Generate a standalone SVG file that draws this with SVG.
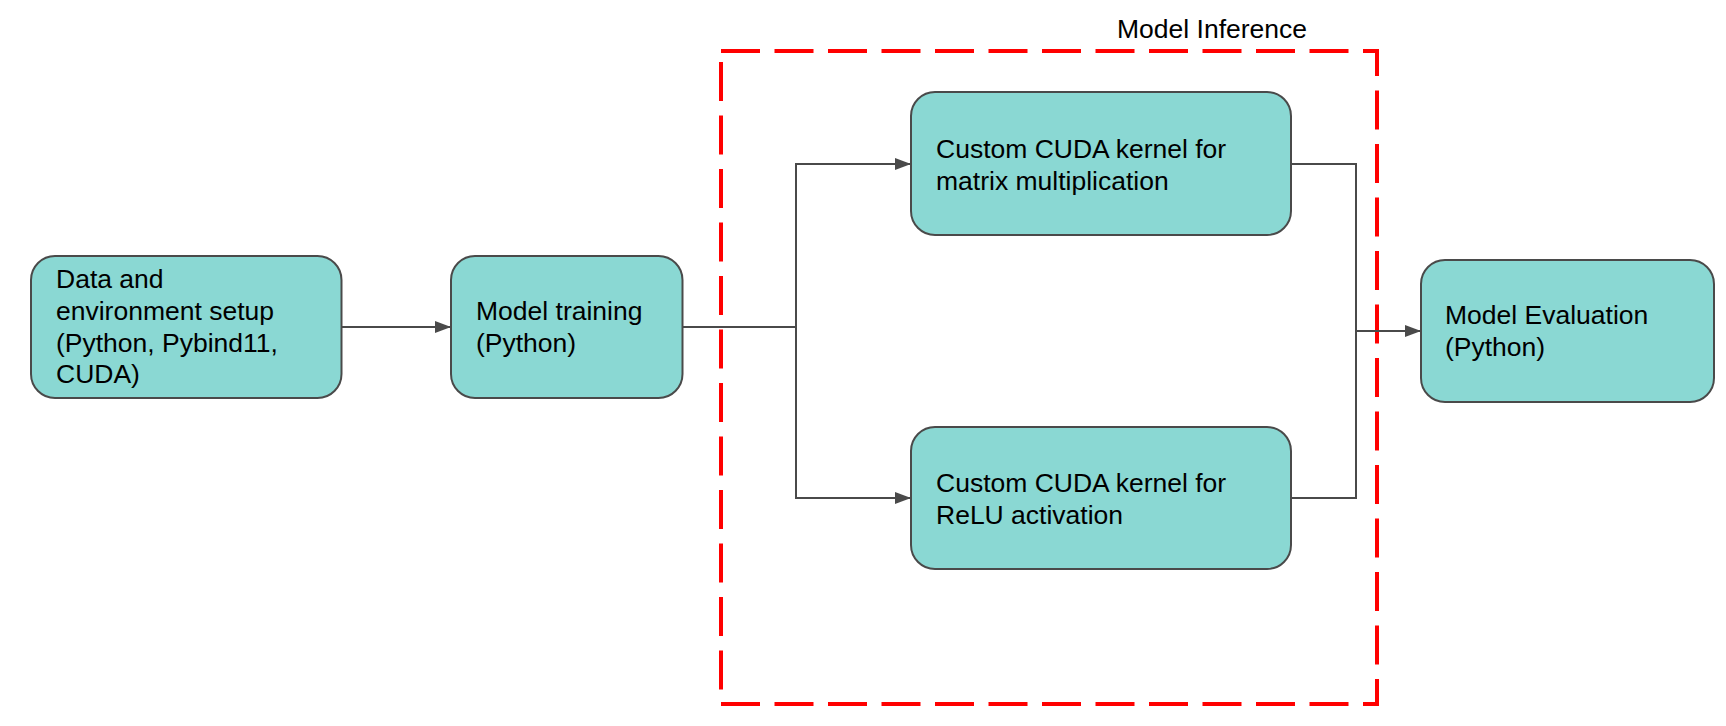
<svg xmlns="http://www.w3.org/2000/svg" width="1726" height="726" viewBox="0 0 1726 726">
<style>
.node rect{fill:#8ad8d3;stroke:#4a4a4a;stroke-width:2}
.node text,.label{font-family:"Liberation Sans",Arial,sans-serif;font-size:26.5px;fill:#000}
.conn path{fill:none;stroke:#4a4a4a;stroke-width:2}
</style>
<defs>
<marker id="arr" markerUnits="userSpaceOnUse" markerWidth="16" markerHeight="12" refX="15" refY="6" orient="auto">
<path d="M0,0 L16,6 L0,12 Z" fill="#4a4a4a"/>
</marker>
</defs>
<rect width="1726" height="726" fill="#fff"/>
<g id="group-inference">
<path d="M721,51 H1377 V704 H721 Z" fill="none" stroke="#ff0000" stroke-width="4" stroke-dasharray="39 14.5"/>
<text class="label" x="1117" y="38">Model Inference</text>
</g>
<g class="conn" id="connectors">
<path d="M342,327 H450" marker-end="url(#arr)"/>
<path d="M683,327 H796 V164 H910" marker-end="url(#arr)"/>
<path d="M683,327 H796 V498 H910" marker-end="url(#arr)"/>
<path d="M1291,164 H1356 V331 H1420" marker-end="url(#arr)"/>
<path d="M1291,498 H1356 V331"/>
</g>
<g class="node" id="node-setup">
<rect x="31" y="256" width="310.5" height="142" rx="24"/>
<text x="56" y="288">Data and</text>
<text x="56" y="320">environment setup</text>
<text x="56" y="352">(Python, Pybind11,</text>
<text x="56" y="383">CUDA)</text>
</g>
<g class="node" id="node-training">
<rect x="451" y="256" width="231.5" height="142" rx="24"/>
<text x="476" y="320">Model training</text>
<text x="476" y="352">(Python)</text>
</g>
<g class="node" id="node-matmul">
<rect x="911" y="92" width="380" height="143" rx="24"/>
<text x="936" y="158">Custom CUDA kernel for</text>
<text x="936" y="190">matrix multiplication</text>
</g>
<g class="node" id="node-relu">
<rect x="911" y="427" width="380" height="142" rx="24"/>
<text x="936" y="492">Custom CUDA kernel for</text>
<text x="936" y="524">ReLU activation</text>
</g>
<g class="node" id="node-eval">
<rect x="1421" y="260" width="293" height="142" rx="24"/>
<text x="1445" y="324">Model Evaluation</text>
<text x="1445" y="356">(Python)</text>
</g>
</svg>
